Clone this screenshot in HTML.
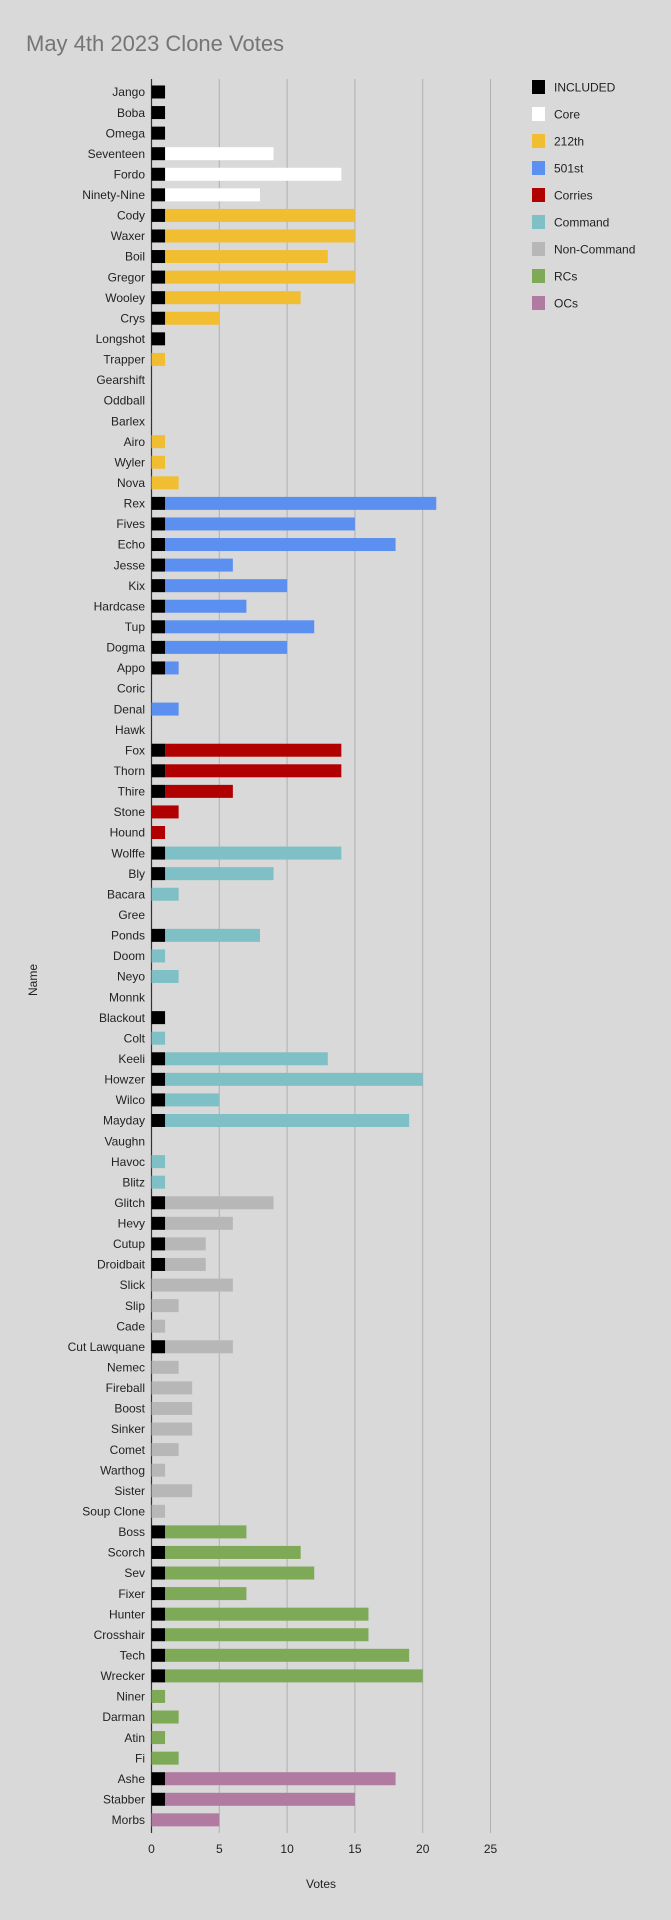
<!DOCTYPE html>
<html><head><meta charset="utf-8"><style>
html,body{margin:0;padding:0;background:#d9d9d9;}
svg{display:block;font-family:"Liberation Sans",sans-serif;}
</style></head><body>
<svg id="chart" width="671" height="1920" viewBox="0 0 671 1920">
<rect width="671" height="1920" fill="#d9d9d9"/>
<text x="26" y="51" font-size="22" fill="#757575">May 4th 2023 Clone Votes</text>
<text x="0" y="0" font-size="12" fill="#222" text-anchor="middle" transform="translate(37,980) rotate(-90)">Name</text>
<text x="321" y="1888" font-size="12" fill="#222" text-anchor="middle">Votes</text>
<g id="grid"></g><g id="bars"></g><g id="labels"></g><g id="ticks"></g><g id="legend"></g>
</svg>
<script>
const names=["Jango","Boba","Omega","Seventeen","Fordo","Ninety-Nine","Cody","Waxer","Boil","Gregor","Wooley","Crys","Longshot","Trapper","Gearshift","Oddball","Barlex","Airo","Wyler","Nova","Rex","Fives","Echo","Jesse","Kix","Hardcase","Tup","Dogma","Appo","Coric","Denal","Hawk","Fox","Thorn","Thire","Stone","Hound","Wolffe","Bly","Bacara","Gree","Ponds","Doom","Neyo","Monnk","Blackout","Colt","Keeli","Howzer","Wilco","Mayday","Vaughn","Havoc","Blitz","Glitch","Hevy","Cutup","Droidbait","Slick","Slip","Cade","Cut Lawquane","Nemec","Fireball","Boost","Sinker","Comet","Warthog","Sister","Soup Clone","Boss","Scorch","Sev","Fixer","Hunter","Crosshair","Tech","Wrecker","Niner","Darman","Atin","Fi","Ashe","Stabber","Morbs"];
const included=[1,1,1,1,1,1,1,1,1,1,1,1,1,0,0,0,0,0,0,0,1,1,1,1,1,1,1,1,1,0,0,0,1,1,1,0,0,1,1,0,0,1,0,0,0,1,0,1,1,1,1,0,0,0,1,1,1,1,0,0,0,1,0,0,0,0,0,0,0,0,1,1,1,1,1,1,1,1,0,0,0,0,1,1,0];
const totals=[1,1,1,9,14,8,15,15,13,15,11,5,1,1,0,0,0,1,1,2,21,15,18,6,10,7,12,10,2,0,2,0,14,14,6,2,1,14,9,2,0,8,1,2,0,1,1,13,20,5,19,0,1,1,9,6,4,4,6,2,1,6,2,3,3,3,2,1,3,1,7,11,12,7,16,16,19,20,1,2,1,2,18,15,5];
const groups=["Core","Core","Core","Core","Core","Core","212th","212th","212th","212th","212th","212th","212th","212th","212th","212th","212th","212th","212th","212th","501st","501st","501st","501st","501st","501st","501st","501st","501st","501st","501st","501st","Corries","Corries","Corries","Corries","Corries","Command","Command","Command","Command","Command","Command","Command","Command","Command","Command","Command","Command","Command","Command","Command","Command","Command","Non-Command","Non-Command","Non-Command","Non-Command","Non-Command","Non-Command","Non-Command","Non-Command","Non-Command","Non-Command","Non-Command","Non-Command","Non-Command","Non-Command","Non-Command","Non-Command","RCs","RCs","RCs","RCs","RCs","RCs","RCs","RCs","RCs","RCs","RCs","RCs","OCs","OCs","OCs"];
const legendLabels=["INCLUDED","Core","212th","501st","Corries","Command","Non-Command","RCs","OCs"];
const legendColors=["#000000","#ffffff","#f1be32","#5b8ff0","#b00000","#7fbfc6","#b7b7b7","#7ea956","#b07aa1"];
const xTicks=[0,5,10,15,20,25];

const NS="http://www.w3.org/2000/svg";
const X0=151.5,PX=13.56,TOP=81.7,STEP=20.57,BH=13;
const x=v=>X0+v*PX;
const yc=i=>TOP+STEP*(i+0.5);
function mk(tag,attrs,parent){const e=document.createElementNS(NS,tag);for(const k in attrs)e.setAttribute(k,attrs[k]);document.getElementById(parent).appendChild(e);return e;}
const colorOf=g=>legendColors[legendLabels.indexOf(g)];
const gBottom=1833;
xTicks.forEach(t=>{
  const l=mk('line',{x1:x(t),x2:x(t),y1:79,y2:gBottom,stroke:t===0?'#333':'#b0b0b0','stroke-width':t===0?1.2:1},'grid');
  
  
  const tx=mk('text',{x:x(t),y:1853,'font-size':12,fill:'#222','text-anchor':'middle'},'ticks');
  tx.textContent=t;
  
  
});
names.forEach((n,i)=>{
  const lb=mk('text',{x:145,y:yc(i)+4.2,'font-size':12,fill:'#222','text-anchor':'end'},'labels');
  lb.textContent=n;
  
  
  const inc=included[i];
  const rest=totals[i]-inc;
  if(rest>0){
    const r=mk('rect',{x:x(inc),y:yc(i)-BH/2,width:rest*PX,height:BH,fill:colorOf(groups[i])},'bars');
    
    
  }
  if(inc>0){
    const b=mk('rect',{x:x(0),y:yc(i)-BH/2,width:inc*PX,height:BH,fill:'#000'},'bars');
    
    
  }
});
legendLabels.forEach((l,i)=>{
  const y=87+i*27;
  const s=mk('rect',{x:532,y:y-7,width:13,height:14,fill:legendColors[i]},'legend');
  
  
  const t=mk('text',{x:554,y:y+4.5,'font-size':12,fill:'#222'},'legend');
  t.textContent=l;
  
  
});
</script>
</body></html>
